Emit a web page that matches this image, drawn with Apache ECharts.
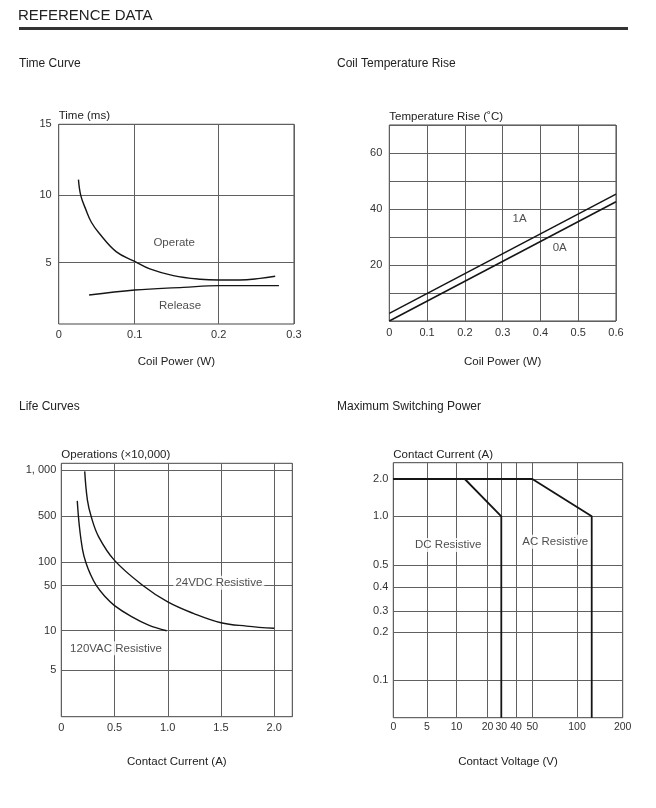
<!DOCTYPE html>
<html>
<head>
<meta charset="utf-8">
<script src="https://cdn.jsdelivr.net/npm/echarts@6/dist/echarts.min.js"></script>
<style>
html,body{margin:0;padding:0;background:#fff;}
#c{width:656px;height:808px;}
</style>
</head>
<body>
<div id="c"></div>
<script>
// ================= DATA =================
// Time Curve
const timeXTicks = [0, 0.1, 0.2, 0.3];
const timeXLabels = ['0', '0.1', '0.2', '0.3'];
const timeYTicks = [5, 10, 15];
const timeYLabels = ['5', '10', '15'];
const operatePower = [0.026, 0.029, 0.036, 0.043, 0.053, 0.076, 0.1, 0.118, 0.146, 0.178, 0.2, 0.228, 0.255, 0.275];
const operateTime  = [11.1, 10.0, 8.9, 8.0, 7.2, 5.8, 5.1, 4.5, 3.95, 3.65, 3.59, 3.59, 3.72, 3.89];
const releasePower = [0.04, 0.1, 0.158, 0.2, 0.28];
const releaseTime  = [2.36, 2.77, 2.99, 3.13, 3.13];

// Coil Temperature Rise
const tempPower = [0, 0.6];
const tempRise1A = [2.7, 45.3];
const tempRise0A = [0, 42.6];

// Life Curves
const lifeYTicks = [5, 10, 50, 100, 500, 1000];
const lifeYLabels = ['5', '10', '50', '100', '500', '1, 000'];
const vac120Current = [0.15, 0.17, 0.2, 0.23, 0.27, 0.33, 0.41, 0.5, 0.66, 0.82, 0.99];
const vac120Ops     = [630, 350, 155, 100, 72, 50, 34, 24.5, 16.5, 12.2, 10];
const vdc24Current = [0.22, 0.245, 0.28, 0.35, 0.5, 0.77, 1.0, 1.24, 1.5, 1.74, 2.0];
const vdc24Ops     = [980, 640, 500, 246, 107, 50, 28, 18.6, 13.3, 11.8, 10.9];

// Maximum Switching Power
const powerXTicks = [0, 5, 10, 20, 30, 40, 50, 100, 200];
const powerXLabels = ['0', '5', '10', '20', '30', '40', '50', '100', '200'];
const powerYTicks = [0.1, 0.2, 0.3, 0.4, 0.5, 1.0, 2.0];
const powerYLabels = ['0.1', '0.2', '0.3', '0.4', '0.5', '1.0', '2.0'];
const dcVoltage = [0, 12, 30, 30];
const dcCurrent = [2.0, 2.0, 1.0, 0];
const acVoltage = [0, 50, 125, 125];
const acCurrent = [2.0, 2.0, 1.0, 0];

// Annotations (data units)
const timeNotes  = [['Operate', 0.147, 6.49], ['Release', 0.154, 1.47]];
const tempNotes  = [['1A', 0.345, 36.5], ['0A', 0.451, 26.1]];
const lifeNotes  = [['24VDC Resistive', 1.48, 54.6], ['120VAC Resistive', 0.514, 7.34]];
const powerNotes = [['DC Resistive', 8.23, 0.665], ['AC Resistive', 71.4, 0.696]];

// ================= SCALE DEFINITIONS (non-uniform printed axes) =================
const timeXScale  = {vals: [0, 0.1, 0.2, 0.3], pos: [0, 76, 160, 235.3], max: 235.3, mode: 'lin'};
const timeYScale  = {vals: [0, 5, 10, 15], pos: [0, 61.3, 128.7, 199.7], max: 199.7, mode: 'lin'};
const lifeYScale  = {vals: [0, 5, 10, 50, 100, 500, 1000], pos: [0, 46.4, 86, 131, 154.4, 200.4, 246.7], max: 253.4, mode: 'log'};
const powerXScale = {vals: [0, 5, 10, 20, 30, 40, 50, 100, 200], pos: [0, 33.7, 63.3, 94.3, 108, 122.7, 139, 183.7, 229.4], max: 229.4, mode: 'log'};
const powerYScale = {vals: [0, 0.1, 0.2, 0.3, 0.4, 0.5, 1.0, 2.0], pos: [0, 37.4, 85.7, 106.4, 130.4, 152.7, 201.4, 238.7], max: 255, mode: 'log'};

function mapper(s) {
  return function (v) {
    const a = s.vals, p = s.pos;
    let i = 0;
    while (i < a.length - 2 && v > a[i + 1]) i++;
    let t;
    if (s.mode === 'log' && a[i] > 0) t = Math.log(v / a[i]) / Math.log(a[i + 1] / a[i]);
    else t = (v - a[i]) / (a[i + 1] - a[i]);
    return p[i] + t * (p[i + 1] - p[i]);
  };
}

const FONT = '"Liberation Sans", Arial, Helvetica, sans-serif';
const GRIDC = '#606060';
const INK = '#151515';

function mappedAxis(scale, ticks, labels, gridIndex, extra) {
  const f = mapper(scale);
  const tpos = ticks.map(f);
  return Object.assign({
    type: 'value', gridIndex: gridIndex, min: 0, max: scale.max,
    axisLine: {show: false},
    axisTick: {show: false, customValues: tpos},
    axisLabel: {
      customValues: tpos, color: '#333', fontSize: 11, fontFamily: FONT,
      formatter: function (v) {
        for (let i = 0; i < tpos.length; i++) if (Math.abs(tpos[i] - v) < 1e-6) return labels[i];
        return '';
      }
    },
    splitLine: {show: true, lineStyle: {color: GRIDC, width: 1}}
  }, extra || {});
}

function nameStyleY() {
  return {align: 'left', verticalAlign: 'bottom', fontSize: 11.5, color: '#222', fontFamily: FONT, padding: [0, 0, 0, 0]};
}
function nameStyleX() {
  return {fontSize: 11.5, color: '#222', fontFamily: FONT};
}

function curve(xs, ys, fx, fy, xi, yi, smooth, width) {
  return {
    type: 'line', xAxisIndex: xi, yAxisIndex: yi, smooth: smooth,
    showSymbol: false, symbol: 'none',
    silent: true, lineStyle: {color: INK, width: width},
    data: xs.map((x, i) => [fx(x), fy(ys[i])]),
    z: 3
  };
}
function notes(list, fx, fy, xi, yi) {
  return {
    type: 'scatter', xAxisIndex: xi, yAxisIndex: yi, symbolSize: 0, silent: true, z: 5,
    label: {show: true, position: 'inside', formatter: '{b}', color: '#222', fontSize: 11.5, fontFamily: FONT,
            backgroundColor: '#fff', padding: [1, 2]},
    data: list.map(n => ({name: n[0], value: [fx(n[1]), fy(n[2])]}))
  };
}

const ident = v => v;
const tx = mapper(timeXScale), ty = mapper(timeYScale);
const ly = mapper(lifeYScale);
const px = mapper(powerXScale), py = mapper(powerYScale);

const gridBase = {show: true, borderColor: '#444', borderWidth: 1, backgroundColor: 'transparent', containLabel: false};

const option = {
  animation: false,
  textStyle: {fontFamily: FONT},
  title: [
    {text: 'REFERENCE DATA', left: 18, top: 7, padding: 0, textStyle: {fontSize: 15, fontWeight: 'normal', color: '#222', lineHeight: 17, fontFamily: FONT}},
    {text: 'Time Curve', left: 19, top: 57, padding: 0, textStyle: {fontSize: 12, fontWeight: 'normal', color: '#222', lineHeight: 14, fontFamily: FONT}},
    {text: 'Coil Temperature Rise', left: 337, top: 57, padding: 0, textStyle: {fontSize: 12, fontWeight: 'normal', color: '#222', lineHeight: 14, fontFamily: FONT}},
    {text: 'Life Curves', left: 19, top: 400, padding: 0, textStyle: {fontSize: 12, fontWeight: 'normal', color: '#222', lineHeight: 14, fontFamily: FONT}},
    {text: 'Maximum Switching Power', left: 337, top: 400, padding: 0, textStyle: {fontSize: 12, fontWeight: 'normal', color: '#222', lineHeight: 14, fontFamily: FONT}}
  ],
  graphic: [
    {type: 'rect', left: 19, top: 27, shape: {width: 609, height: 3}, style: {fill: '#333'}, silent: true}
  ],
  grid: [
    Object.assign({left: 58.7, top: 124.3, width: 235.3, height: 199.7}, gridBase),
    Object.assign({left: 389.3, top: 125, width: 226.7, height: 196}, gridBase),
    Object.assign({left: 61.3, top: 463.3, width: 231, height: 253.4}, gridBase),
    Object.assign({left: 393.3, top: 462.7, width: 229.4, height: 255}, gridBase)
  ],
  xAxis: [
    mappedAxis(timeXScale, timeXTicks, timeXLabels, 0, {name: 'Coil Power (W)', nameLocation: 'middle', nameGap: 32, nameTextStyle: nameStyleX()}),
    {
      type: 'value', gridIndex: 1, min: 0, max: 0.6, interval: 0.1,
      axisLine: {show: false}, axisTick: {show: false},
      axisLabel: {color: '#333', fontSize: 11, fontFamily: FONT, margin: 6,
        formatter: v => (Math.abs(v) < 1e-9 ? '0' : v.toFixed(1))},
      splitLine: {show: true, lineStyle: {color: GRIDC, width: 1}},
      name: 'Coil Power (W)', nameLocation: 'middle', nameGap: 35, nameTextStyle: nameStyleX()
    },
    {
      type: 'value', gridIndex: 2, min: 0, max: 2.17, interval: 0.5,
      axisLine: {show: false}, axisTick: {show: false},
      axisLabel: {color: '#333', fontSize: 11, fontFamily: FONT, margin: 6,
        formatter: v => {
          if (Math.abs(v) < 1e-9) return '0';
          const k = v / 0.5;
          return Math.abs(k - Math.round(k)) < 1e-6 ? v.toFixed(1) : '';
        }},
      splitLine: {show: true, lineStyle: {color: GRIDC, width: 1}},
      name: 'Contact Current (A)', nameLocation: 'middle', nameGap: 39, nameTextStyle: nameStyleX()
    },
    mappedAxis(powerXScale, powerXTicks, powerXLabels, 3, {name: 'Contact Voltage (V)', nameLocation: 'middle', nameGap: 38, nameTextStyle: nameStyleX()})
  ],
  yAxis: [
    mappedAxis(timeYScale, timeYTicks, timeYLabels, 0, {name: 'Time (ms)', nameLocation: 'end', nameGap: 2, nameTextStyle: nameStyleY()}),
    {
      type: 'value', gridIndex: 1, min: 0, max: 70, interval: 10,
      axisLine: {show: false}, axisTick: {show: false},
      axisLabel: {color: '#333', fontSize: 11, fontFamily: FONT, margin: 7,
        formatter: v => (v === 20 || v === 40 || v === 60 ? String(v) : '')},
      splitLine: {show: true, lineStyle: {color: GRIDC, width: 1}},
      name: 'Temperature Rise (\u02daC)', nameLocation: 'end', nameGap: 2, nameTextStyle: nameStyleY()
    },
    mappedAxis(lifeYScale, lifeYTicks, lifeYLabels, 2, {name: 'Operations (\u00d710,000)', nameLocation: 'end', nameGap: 2, nameTextStyle: nameStyleY()}),
    mappedAxis(powerYScale, powerYTicks, powerYLabels, 3, {name: 'Contact Current (A)', nameLocation: 'end', nameGap: 2, nameTextStyle: nameStyleY()})
  ],
  series: [
    curve(operatePower, operateTime, tx, ty, 0, 0, 0.4, 1.4),
    curve(releasePower, releaseTime, tx, ty, 0, 0, 0.4, 1.4),
    notes(timeNotes, tx, ty, 0, 0),

    curve(tempPower, tempRise1A, ident, ident, 1, 1, false, 1.5),
    curve(tempPower, tempRise0A, ident, ident, 1, 1, false, 1.5),
    notes(tempNotes, ident, ident, 1, 1),

    curve(vac120Current, vac120Ops, ident, ly, 2, 2, 0.4, 1.4),
    curve(vdc24Current, vdc24Ops, ident, ly, 2, 2, 0.4, 1.4),
    notes(lifeNotes, ident, ly, 2, 2),

    curve(dcVoltage, dcCurrent, px, py, 3, 3, false, 1.8),
    curve(acVoltage, acCurrent, px, py, 3, 3, false, 1.8),
    notes(powerNotes, px, py, 3, 3)
  ]
};

// label margins per axis
option.xAxis[0].axisLabel.margin = 5;
option.xAxis[3].axisLabel.margin = 4;
option.xAxis[3].axisLabel.fontSize = 10.5;
option.yAxis[0].axisLabel.margin = 7;
option.yAxis[2].axisLabel.margin = 5;
option.yAxis[3].axisLabel.margin = 5;

const chart = echarts.init(document.getElementById('c'), null, {renderer: 'canvas'});
chart.setOption(option);
</script>
</body>
</html>
